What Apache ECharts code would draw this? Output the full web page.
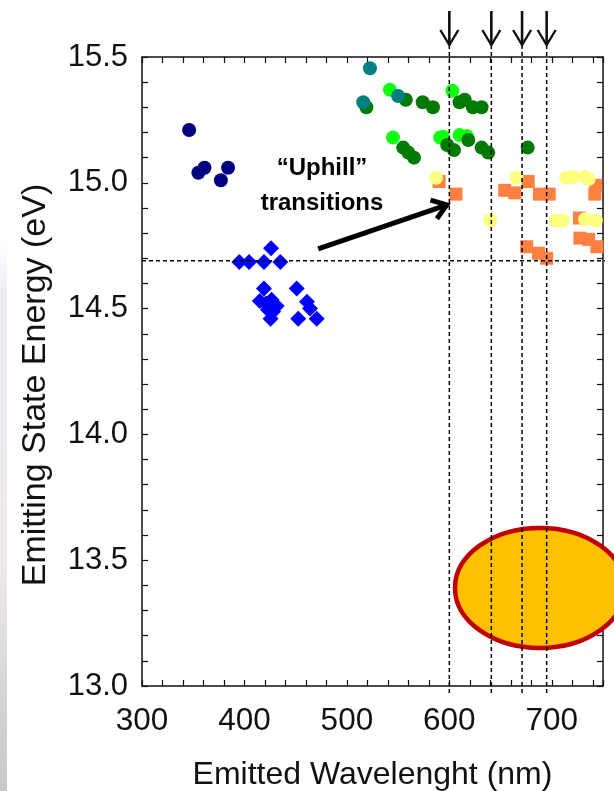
<!DOCTYPE html>
<html>
<head>
<meta charset="utf-8">
<script src="https://cdn.jsdelivr.net/npm/echarts/dist/echarts.min.js"></script>
<style>
  html, body { margin: 0; padding: 0; background: #fff; }
  #chart { width: 614px; height: 791px; }
</style>
</head>
<body>
<div id="chart"></div>
<script>
// Emitting state energy (eV) vs emitted wavelength (nm)
const navyCircles   = [[346, 15.21], [355, 15.04], [361, 15.06], [377, 15.01], [384, 15.06]];
const blueDiamonds  = [[395, 14.685], [404.5, 14.685], [419, 14.685], [426, 14.74], [435, 14.685],
                       [419, 14.58], [415, 14.53], [421, 14.52], [426.5, 14.535], [431.5, 14.51],
                       [423, 14.495], [428, 14.488], [425.5, 14.46],
                       [451, 14.58], [461, 14.527], [464, 14.50], [452.5, 14.46], [470.5, 14.46]];
const tealCircles   = [[522.5, 15.455], [516, 15.32], [550, 15.345]];
const limeCircles   = [[542, 15.37], [603, 15.366], [545, 15.18], [591, 15.18], [594, 15.183],
                       [610, 15.19], [617, 15.186]];
const greenCircles  = [[519, 15.30], [557.5, 15.33], [574, 15.32], [584, 15.30], [610, 15.32],
                       [615, 15.33], [623, 15.30], [631.5, 15.30], [555, 15.14], [560, 15.12],
                       [565.5, 15.10], [598, 15.15], [604.5, 15.13], [618.5, 15.17], [631.5, 15.14],
                       [638, 15.12], [676.5, 15.14]];
const yellowCircles = [[587, 15.02], [665.5, 15.02], [640, 14.85], [714, 15.02], [721, 15.023],
                       [732.5, 15.023], [736, 15.015], [704, 14.85], [710.5, 14.85], [732.5, 14.855],
                       [743, 14.85]];
const orangeSquares = [[590, 15.005], [606.5, 14.955], [654, 14.97], [664, 14.96], [677, 15.005],
                       [688, 14.955], [697.5, 14.955], [743, 14.99], [742, 14.955], [727, 14.86],
                       [727.5, 14.78], [736, 14.775], [744, 14.746], [675.5, 14.746], [687, 14.72],
                       [695, 14.70]];

// Reference levels
const lineWavelengths = [600, 641, 671, 695];
const thresholdEnergy = 14.69;

// Axis ranges and tick labels
const xRange = [300, 750];
const yRange = [13.0, 15.5];
const xTickLabels = [300, 400, 500, 600, 700];
const yTickLabels = ['13.0', '13.5', '14.0', '14.5', '15.0', '15.5'];
const yTitle = 'Emitting State Energy (eV)';

const FONT = '"Liberation Sans", Arial, Helvetica, sans-serif';
const chart = echarts.init(document.getElementById('chart'), null, { renderer: 'canvas' });

const axisLineStyle = { color: '#111', width: 1.5 };
const tickStyle = { show: true, inside: true, length: 6, interval: 0, lineStyle: { color: '#111', width: 1.2 } };

function scatter(name, data, symbol, size, color) {
  return {
    name, type: 'scatter', data, symbol, symbolSize: size,
    itemStyle: { color, opacity: 1 }, z: 4, silent: true
  };
}

const dashed = { color: '#000', width: 1.5, type: [4, 3] };
const refLines = lineWavelengths.map((w) => ({
  type: 'line', data: [[w, 15.548], [w, 12.963]], clip: false, symbol: 'none',
  lineStyle: dashed, z: 6, silent: true, animation: false
}));
refLines.push({
  type: 'line', data: [[xRange[0], thresholdEnergy], [756, thresholdEnergy]], clip: false,
  symbol: 'none', lineStyle: dashed, z: 6, silent: true, animation: false
});

chart.setOption({
  animation: false,
  backgroundColor: '#fff',
  grid: { left: 142, right: 11, top: 57, bottom: 105, containLabel: false, outerBoundsMode: 'none' },
  xAxis: [{
    type: 'value', min: xRange[0], max: xRange[1], interval: 20, position: 'bottom',
    axisLine: { show: true, onZero: false, lineStyle: axisLineStyle },
    axisTick: tickStyle, splitLine: { show: false },
    axisLabel: {
      margin: 19, color: '#111', fontFamily: FONT, fontSize: 31.5,
      formatter: (v) => (xTickLabels.indexOf(v) >= 0 ? String(v) : '')
    },
    name: 'Emitted Wavelenght (nm)', nameLocation: 'middle', nameGap: 73,
    nameTextStyle: { color: '#111', fontFamily: FONT, fontSize: 32 }
  }, {
    type: 'value', min: xRange[0], max: xRange[1], interval: 20, position: 'top',
    axisLine: { show: true, onZero: false, lineStyle: axisLineStyle },
    axisTick: tickStyle, axisLabel: { show: false }, splitLine: { show: false }
  }],
  yAxis: [{
    type: 'value', min: yRange[0], max: yRange[1], interval: 0.1, position: 'left',
    axisLine: { show: true, onZero: false, lineStyle: axisLineStyle },
    axisTick: tickStyle, splitLine: { show: false },
    axisLabel: {
      margin: 14, color: '#111', fontFamily: FONT, fontSize: 31,
      formatter: (v) => { const s = v.toFixed(1); return yTickLabels.indexOf(s) >= 0 ? s : ''; }
    }
  }, {
    type: 'value', min: yRange[0], max: yRange[1], interval: 0.1, position: 'right',
    axisLine: { show: true, onZero: false, lineStyle: axisLineStyle },
    axisTick: tickStyle, axisLabel: { show: false }, splitLine: { show: false }
  }],
  series: [
    scatter('orange', orangeSquares, 'rect', 13, '#FF8040'),
    scatter('yellow', yellowCircles, 'circle', 14, '#FFFF80'),
    scatter('lime', limeCircles, 'circle', 14, '#11FF11'),
    scatter('green', greenCircles, 'circle', 14, '#007A00'),
    scatter('teal', tealCircles, 'circle', 14, '#008080'),
    scatter('navy', navyCircles, 'circle', 14, '#000080'),
    scatter('blue', blueDiamonds, 'diamond', 16, '#0000FF'),
    ...refLines
  ]
});

// Annotations placed through the axis scales
function px(x, y) { return chart.convertToPixel({ xAxisIndex: 0, yAxisIndex: 0 }, [x, y]); }

const graphics = [];

// faint backdrop strip along the left edge
graphics.push({
  type: 'rect', shape: { x: 0, y: 240, width: 7, height: 551 }, z: -10, silent: true,
  style: {
    fill: new echarts.graphic.LinearGradient(0, 0, 0, 1, [
      { offset: 0, color: 'rgba(232,234,240,0)' },
      { offset: 0.1, color: 'rgba(232,234,240,0.9)' },
      { offset: 0.6, color: 'rgba(238,232,234,1)' },
      { offset: 0.8, color: 'rgba(215,215,218,1)' },
      { offset: 1, color: 'rgba(200,200,200,1)' }
    ])
  }
});

// vertical axis title
graphics.push({
  type: 'text', x: 36, y: 385, rotation: Math.PI / 2, z: 5, silent: true,
  style: { text: yTitle, fontFamily: FONT, fontSize: 34, fill: '#111',
           align: 'center', verticalAlign: 'middle' }
});

// ellipse marking the region of interest
const ec = px(688.5, 13.39);
graphics.push({
  type: 'ellipse', shape: { cx: ec[0], cy: ec[1], rx: 85, ry: 60 }, z: 3, silent: true,
  style: { fill: '#FFC000', stroke: '#C00000', lineWidth: 4.5 }
});

// downward arrows above each reference wavelength
const topY = px(xRange[0], yRange[1])[1];
lineWavelengths.forEach((w) => {
  const x = px(w, yRange[1])[0];
  const tipY = topY - 12;
  graphics.push({
    type: 'line', shape: { x1: x, y1: topY - 46, x2: x, y2: tipY }, z: 7, silent: true,
    style: { stroke: '#111', lineWidth: 2.6 }
  });
  graphics.push({
    type: 'polyline', shape: { points: [[x - 9, tipY - 15], [x, tipY], [x + 9, tipY - 15]] }, z: 7, silent: true,
    style: { stroke: '#111', lineWidth: 2.4, fill: null }
  });
});

// "Uphill" transitions label with pointer
const a0 = px(472, 14.737);
const a1 = px(597.5, 14.912);
const ang = Math.atan2(a1[1] - a0[1], a1[0] - a0[0]);
const headLen = 17, spread = 0.62;
const h1 = [a1[0] - headLen * Math.cos(ang - spread), a1[1] - headLen * Math.sin(ang - spread)];
const h2 = [a1[0] - headLen * Math.cos(ang + spread), a1[1] - headLen * Math.sin(ang + spread)];
graphics.push({
  type: 'line', shape: { x1: a0[0], y1: a0[1], x2: a1[0] - 2 * Math.cos(ang), y2: a1[1] - 2 * Math.sin(ang) },
  z: 7, silent: true, style: { stroke: '#000', lineWidth: 5 }
});
graphics.push({
  type: 'polyline', shape: { points: [h1, a1, h2] }, z: 7, silent: true,
  style: { stroke: '#000', lineWidth: 5, fill: null, lineJoin: 'miter' }
});
graphics.push({
  type: 'text', x: 322, y: 168, z: 7, silent: true,
  style: { text: '\u201CUphill\u201D', fontFamily: FONT, fontWeight: 'bold', fontSize: 24,
           fill: '#000', align: 'center', verticalAlign: 'middle' }
});
graphics.push({
  type: 'text', x: 322, y: 203, z: 7, silent: true,
  style: { text: 'transitions', fontFamily: FONT, fontWeight: 'bold', fontSize: 24,
           fill: '#000', align: 'center', verticalAlign: 'middle' }
});

chart.setOption({ graphic: graphics });
</script>
</body>
</html>
